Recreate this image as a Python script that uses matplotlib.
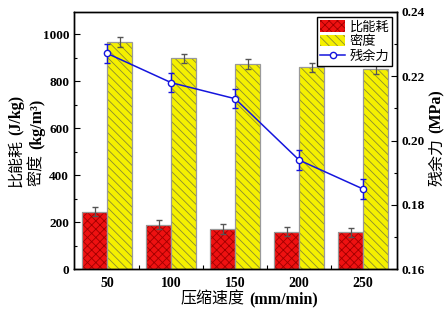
import matplotlib
matplotlib.use("Agg")
import matplotlib.pyplot as plt
import numpy as np
from matplotlib.ticker import MultipleLocator, FixedLocator
from matplotlib.patches import Patch

plt.rcParams['font.family'] = ['Liberation Serif', 'Noto Sans CJK SC']
plt.rcParams['hatch.linewidth'] = 0.6

categories = ['50', '100', '150', '200', '250']
energy = [244, 189, 171, 159, 156]
energy_err = [20, 20, 22, 20, 20]
density = [966, 897, 872, 858, 851]
density_err = [22, 20, 20, 20, 20]
residual = [0.2271, 0.2180, 0.2130, 0.1939, 0.1849]
residual_err = [0.003, 0.003, 0.003, 0.003, 0.003]

RED, RED_H = '#ee1111', '#a00000'
YEL, YEL_H = '#f5f000', '#8a8a30'
EDGE = '#999999'
W, H = 447, 309

fig = plt.figure(figsize=(W/100, H/100), dpi=100)
ax = fig.add_axes([74/W, 1-269/H, (397-74)/W, (269-12)/H])
x = np.arange(len(categories))
w = 0.39

ax.bar(x, energy, width=-w, align='edge', color=RED, edgecolor=RED_H, hatch='xxxx', linewidth=0)
ax.bar(x, energy, width=-w, align='edge', fill=False, edgecolor=EDGE, linewidth=0.9)
ax.bar(x, density, width=w, align='edge', color=YEL, edgecolor=YEL_H, hatch='\\\\\\\\', linewidth=0)
ax.bar(x, density, width=w, align='edge', fill=False, edgecolor=EDGE, linewidth=0.9)
ax.errorbar(x - w/2, energy, yerr=energy_err, fmt='none', ecolor='#555555', capsize=2.5, elinewidth=0.9)
ax.errorbar(x + w/2, density, yerr=density_err, fmt='none', ecolor='#555555', capsize=2.5, elinewidth=0.9)

ax.set_xlim(-0.52, 4.53)
ax.set_ylim(0, 1094)
ax.set_xticks(x)
ax.set_xticklabels(categories, fontweight='bold', fontsize=10)
ax.xaxis.set_minor_locator(FixedLocator(x[:-1] + 0.5))
ax.yaxis.set_major_locator(MultipleLocator(200))
ax.yaxis.set_minor_locator(MultipleLocator(100))
ax.tick_params(axis='both', which='both', direction='in', width=0.8)
ax.tick_params(axis='y', which='major', length=4, labelsize=9.5)
ax.tick_params(axis='y', which='minor', length=2)
ax.tick_params(axis='x', which='major', length=0, pad=6)
ax.tick_params(axis='x', which='minor', length=3)
for lab in ax.get_yticklabels():
    lab.set_fontweight('bold')

ax2 = ax.twinx()
l, = ax2.plot(x, residual, color='#1515dd', lw=1.1, marker='o', ms=4.5,
              mfc='white', mec='#1515dd', mew=1.0, zorder=5)
ax2.errorbar(x, residual, yerr=residual_err, fmt='none', ecolor='#1515dd', capsize=2.5, elinewidth=1.0, zorder=4)
ax2.set_ylim(0.16, 0.24)
ax2.yaxis.set_major_locator(MultipleLocator(0.02))
ax2.yaxis.set_minor_locator(MultipleLocator(0.01))
ax2.tick_params(axis='y', which='both', direction='in', width=0.8)
ax2.tick_params(axis='y', which='major', length=4, labelsize=9.5)
ax2.tick_params(axis='y', which='minor', length=2)
for lab in ax2.get_yticklabels():
    lab.set_fontweight('bold')

for a in (ax, ax2):
    for s in a.spines.values():
        s.set_linewidth(1.0)

h1 = Patch(facecolor=RED, edgecolor=RED_H, hatch='xxxx', linewidth=0)
h2 = Patch(facecolor=YEL, edgecolor=YEL_H, hatch='\\\\\\\\', linewidth=0)
ax2.legend([h1, h2, l], ['比能耗', '密度', '残余力'], loc='upper right',
           fontsize=9.5, frameon=True, fancybox=False, edgecolor='black', framealpha=1,
           borderpad=0.25, handlelength=1.9, handleheight=1.0, handletextpad=0.3,
           labelspacing=0.1, borderaxespad=0.35)

# mixed-weight labels: Chinese regular, Latin bold
FS = 11.5
CJK = dict(family=['Noto Sans CJK SC'], fontweight='normal')
LAT = dict(family=['Liberation Serif'], fontweight='bold')
renderer = fig.canvas.get_renderer()

def mixed(pieces, cx, cy, baseline, rotation):
    widths = []
    for s, kw in pieces:
        t = fig.text(0, 0, s, fontsize=FS, **kw)
        widths.append(t.get_window_extent(renderer).width)
        t.remove()
    gap = 0.3 * FS * 100 / 72
    total = sum(widths) + gap * (len(pieces) - 1)
    pos = -total / 2
    for (s, kw), wd in zip(pieces, widths):
        if rotation == 90:
            px, py = baseline, cy - pos  # pixel from top; text goes upward
        else:
            px, py = cx + pos, baseline
        fig.text(px / W, 1 - py / H, s, fontsize=FS, rotation=rotation,
                 rotation_mode='anchor', ha='left', va='baseline', **kw)
        pos += wd + gap

mixed([('比能耗', CJK), ('(J/kg)', LAT)], None, 141, 20, 90)
mixed([('密度', CJK), ('(kg/m³)', LAT)], None, 142, 41, 90)
mixed([('残余力', CJK), ('(MPa)', LAT)], None, 138, 441, 90)
mixed([('压缩速度', CJK), ('(mm/min)', LAT)], 249, None, 303, 0)

fig.savefig('out.png', dpi=100)
